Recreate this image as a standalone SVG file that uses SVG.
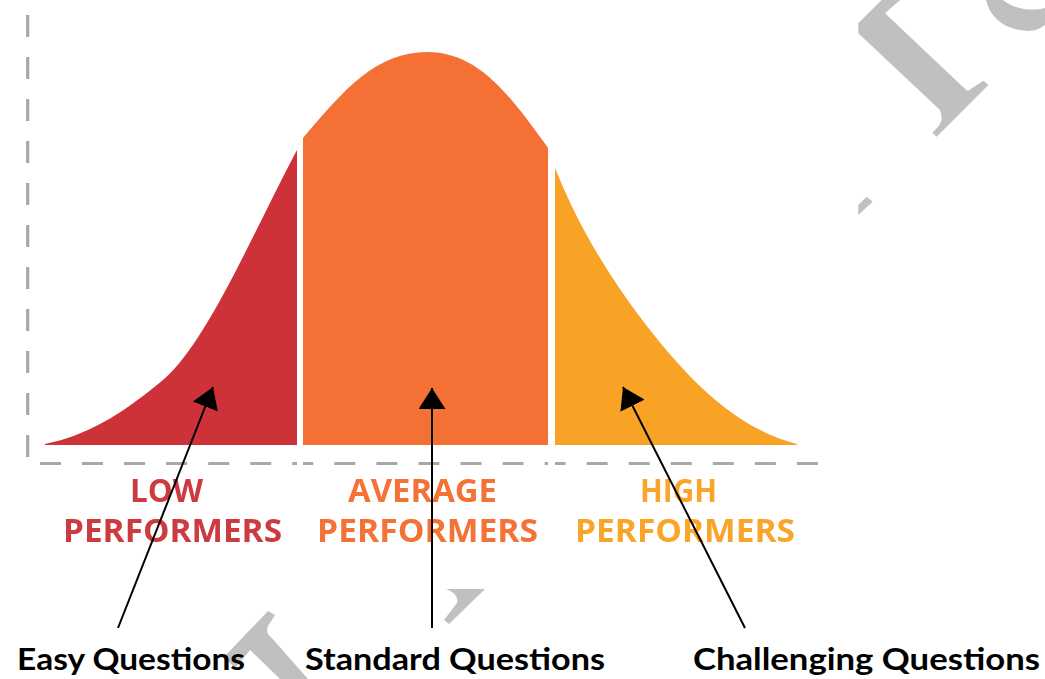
<svg xmlns="http://www.w3.org/2000/svg" width="1045" height="679" viewBox="0 0 1045 679">
  <style>
    .axis { fill: none; stroke: #a8a8a8; stroke-width: 3.2; }
    .band-label { font-family: "Open Sans", "Liberation Sans", sans-serif; font-weight: 700; font-size: 32px; }
    .q-label { font-family: Lato, "Liberation Sans", sans-serif; font-weight: 700; font-size: 31px; fill: #000; }
    .pointer { fill: none; stroke: #000; stroke-width: 2; marker-end: url(#head); }
    .mark { fill: #c0c0c0; }
    .soft { filter: url(#soft); }
  </style>
  <defs>
    <filter id="soft" x="-5%" y="-5%" width="110%" height="110%">
      <feGaussianBlur stdDeviation="0.6"/>
    </filter>
    <marker id="head" viewBox="0 0 21 27" refX="21" refY="13.5" markerWidth="21" markerHeight="27" markerUnits="userSpaceOnUse" orient="auto">
      <path d="M0,0 L21,13.5 L0,27 Z" fill="#000"/>
    </marker>
  </defs>

  <rect width="1045" height="679" fill="#fff"/>

  <!-- faint background lettering, only the parts outside the chart area -->
  <g id="backdrop">
    <path class="mark" d="M858.3,23.3 L881.7,0 L900,0 L885,13.3 L963.3,87.3 Q966,90.5 968.3,90.7 L983.3,80.7 L988.3,85 L936.7,136.7 L932.3,132.7 Q942,124 941.7,118.3 Q941,113 940,110 L858.3,33.3 Z"/>
    <path class="mark" d="M986,0 C990,18 1005,30 1028,31 C1035,31 1041,28 1045,25 L1045,8 C1030,12 1012,8 1003,0 Z"/>
    <path class="mark" d="M866.7,196.7 L872.7,201.7 L858.3,215 L858.3,205 Z"/>
    <path class="mark" d="M446,589 L485,589 L449,624 L444,620 L457,603 Q459,594 446,589 Z"/>
    <path class="mark" d="M268,611 L275,615 L268,626 Q265,633 271,637 L308,679 L280,679 L250,650 L235,668 L224,657 Z"/>
  </g>

  <!-- axes -->
  <g id="axes" class="soft">
    <line class="axis" x1="27.7" y1="15" x2="27.7" y2="457" stroke-dasharray="22 20"/>
    <line class="axis" x1="40" y1="463.5" x2="820" y2="463.5" stroke-dasharray="21 21.05"/>
    <rect x="297" y="455" width="6" height="16" fill="#fff"/>
    <rect x="548" y="455" width="7" height="16" fill="#fff"/>
  </g>

  <g id="low" class="soft">
    <path fill="#cc3139" d="M45,444 C85,436 120,416 163,380 C206,344 252,235 297,150 L297,445 L45,445 Z"/>
    <text class="band-label" fill="#cc3a40" x="130" y="502" textLength="73" lengthAdjust="spacingAndGlyphs">LOW</text>
    <text class="band-label" fill="#cc3a40" x="63" y="542" textLength="219" lengthAdjust="spacingAndGlyphs">PERFORMERS</text>
  </g>

  <g id="average" class="soft">
    <path fill="#f47036" d="M303,445 L303,138 C345,88 377,52 427,52 C477,52 508,92 548,148 L548,445 Z"/>
    <text class="band-label" fill="#f47236" x="348" y="502" textLength="149" lengthAdjust="spacingAndGlyphs">AVERAGE</text>
    <text class="band-label" fill="#f47236" x="317" y="542" textLength="221" lengthAdjust="spacingAndGlyphs">PERFORMERS</text>
  </g>

  <g id="high" class="soft">
    <path fill="#f8a325" d="M555,445 L555,168 C580,230 610,277 640,317 C688,380 735,428 797,444 L797,445 Z"/>
    <text class="band-label" fill="#f9a52a" x="640" y="502" textLength="77" lengthAdjust="spacingAndGlyphs">HIGH</text>
    <text class="band-label" fill="#f9a52a" x="575" y="542" textLength="220" lengthAdjust="spacingAndGlyphs">PERFORMERS</text>
  </g>

  <g id="connectors">
    <line class="pointer" x1="118" y1="628" x2="213" y2="387"/>
    <line class="pointer" x1="432" y1="628" x2="432" y2="388"/>
    <line class="pointer" x1="745" y1="628" x2="623" y2="387"/>
  </g>

  <g id="q-easy">
    <text class="q-label" x="17" y="670" textLength="228" lengthAdjust="spacingAndGlyphs">Easy Questions</text>
  </g>
  <g id="q-standard">
    <text class="q-label" x="305" y="670" textLength="300" lengthAdjust="spacingAndGlyphs">Standard Questions</text>
  </g>
  <g id="q-challenging">
    <text class="q-label" x="693" y="670" textLength="347" lengthAdjust="spacingAndGlyphs">Challenging Questions</text>
  </g>
</svg>
